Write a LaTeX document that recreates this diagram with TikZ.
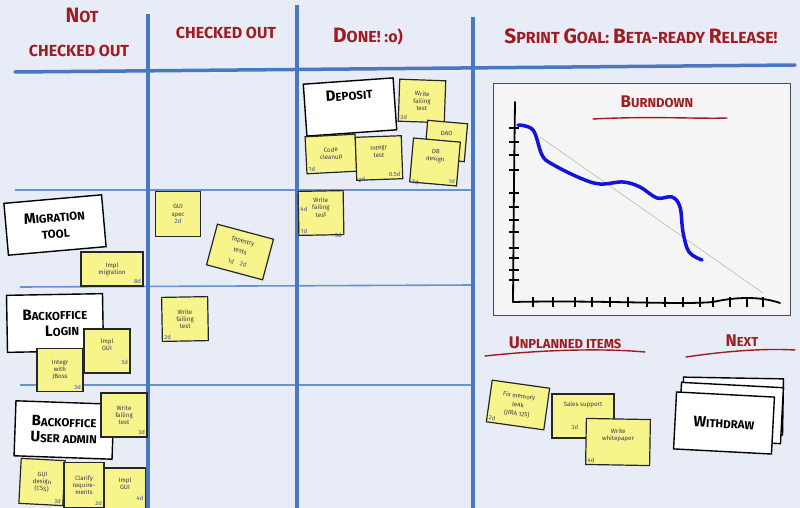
\documentclass[tikz,border=0pt]{standalone}
\usepackage{fontspec}
\setsansfont{Fira Sans}
\definecolor{bg}{HTML}{E8ECF6}
\definecolor{gridblue}{HTML}{4A78C0}
\definecolor{rowblue}{HTML}{6A92CE}
\definecolor{hdred}{HTML}{9E1C22}
\definecolor{stickyY}{HTML}{F8F48C}
\definecolor{notetext}{HTML}{3A3A48}
\definecolor{estblue}{HTML}{3C4C9A}
\definecolor{burnblue}{HTML}{1414D8}
\definecolor{panel}{HTML}{F5F5F5}
\newcommand\kp[2]{\scalebox{1.3}{#1}\MakeUppercase{#2}}
\tikzset{
  gridV/.style={draw=gridblue, line width=3.5pt},
  gridH/.style={draw=rowblue, line width=1.6pt},
  hdr/.style={text=hdred, font=\sffamily\bfseries\fontsize{16}{18}\selectfont, inner sep=0pt},
  sub/.style={text=hdred, font=\sffamily\bfseries\fontsize{13}{15}\selectfont, inner sep=0pt},
  story/.style={draw=black, line width=1.4pt, fill=white, align=center,
    font=\sffamily\bfseries\fontsize{11.5}{16}\selectfont, inner sep=2pt},
  sticky/.style={draw=black!85, line width=1.2pt, fill=stickyY, align=center,
    text=notetext, font=\sffamily\fontsize{6.2}{7.2}\selectfont,
    minimum width=46pt, minimum height=44pt, inner sep=1pt},
  est/.style={text=estblue, font=\sffamily\fontsize{6}{6.5}\selectfont, inner sep=2.5pt},
  redline/.style={draw=hdred, line width=1.4pt, line cap=round}
}
\begin{document}
\begin{tikzpicture}[x=1pt,y=-1pt]
\useasboundingbox (0,0) rectangle (800,508);
\fill[bg] (0,0) rectangle (800,508);

% row lines
\draw[gridH] (15,190) -- (473,190);
\draw[gridH] (20,287) -- (473,285);
\draw[gridH] (20,385) -- (473,385);
% column lines
\draw[gridV] (148,14) -- (148,508);
\draw[gridV] (297,5) -- (297,508);
\draw[gridV] (473,17) -- (473,508);
\draw[gridV, line cap=round] (15,72) -- (795,65);

% headers
\node[hdr] (h1a) at (82,15) {\kp{N}{ot}};
\node[hdr] (h1b) at (79,51) {CHECKED OUT};
\node[hdr] (h2) at (226,33) {CHECKED OUT};
\node[hdr] (h3) at (368,37) {\kp{D}{one}! :o)};
\node[hdr] (h4) at (641,36) {\kp{S}{print} \kp{G}{oal}: \kp{B}{eta-ready} \kp{R}{elease}!};

% burndown panel
\draw[fill=panel, draw=gray!60!black, line width=0.8pt] (493,83) rectangle (790,315);
\node[sub] (bt) at (657,102) {\kp{B}{urndown}};
\draw[redline] (593,119) .. controls (650,116) and (700,119) .. (727,118);
\draw[black, line width=1.8pt, line cap=round] (515,102) .. controls (514,180) .. (513,302);
\draw[black, line width=1.8pt, line cap=round] (513,302) .. controls (600,300) and (680,305) .. (713,302)
   .. controls (735,297) and (760,296) .. (780,303);
\foreach \yy in {128,142,155,170,193,207,220,232,248,258,270,280}
  \draw[black, line width=1.2pt] (509,\yy) -- (519,\yy);
\foreach \xx in {533,553,575,592,610,628,647,665,683,700,713,730,747,763}
  \draw[black, line width=1.2pt] (\xx,297) -- (\xx,307);
\draw[gray!55, line width=0.6pt] (540,137) -- (763,293);
\draw[burnblue, line width=3.5pt, line cap=round] plot[smooth, tension=0.6] coordinates
  {(518,125) (533,130) (542,155) (552,164) (580,178) (600,184) (623,182) (640,187) (657,198) (672,197) (680,207) (683,232) (689,252) (702,260)};

% unplanned / next
\node[sub] (unp) at (565,343) {\kp{U}{nplanned items}};
\draw[redline] (485,356) .. controls (540,350) and (600,348) .. (645,352);
\node[sub] (nxt) at (742,341) {\kp{N}{ext}};
\draw[redline] (686,357) .. controls (720,352) and (760,348) .. (795,350);

% story cards
\node[story, rotate=4, minimum width=90pt, minimum height=52pt] (dep) at (350,107) {\kp{D}{eposit}\\[8pt]};
\node[story, rotate=5, minimum width=98pt, minimum height=52pt] (mig) at (55,225) {\kp{M}{igration}\\TOOL};
\node[story, rotate=1, minimum width=96pt, minimum height=57pt] (bol) at (55,323) {\kp{B}{ackoffice}\\\hspace*{14pt}\kp{L}{ogin}};
\node[story, rotate=-2, minimum width=98pt, minimum height=55pt] (bua) at (64,430) {\kp{B}{ackoffice}\\\kp{U}{ser admin}};
\node[story, rotate=-1, minimum width=100pt, minimum height=56pt] (wd3) at (733,406) {};
\node[story, rotate=-3, minimum width=102pt, minimum height=56pt] (wd2) at (731,413) {};
\node[story, rotate=-3, minimum width=98pt, minimum height=57pt] (wd1) at (724,423) {\kp{W}{ithdraw}};

% stickies: done column
\node[sticky, rotate=-2, minimum height=42pt] (s1) at (422,101) {Write\\failing\\test};
\node[est, rotate=-2, anchor=south west] (s1e) at (s1.south west) {2d};
\node[sticky, rotate=-5, minimum width=40pt, minimum height=38pt] (s2) at (446,141) {DAO\\[8pt]};
\node[sticky, rotate=3, minimum width=50pt, minimum height=37pt] (s3) at (331,154) {Code\\cleanup};
\node[est, rotate=3, anchor=south west] (s3e) at (s3.south west) {1d};
\node[sticky, rotate=2, minimum height=43pt] (s4) at (379,158) {Integr\\test\\[6pt]};
\node[est, rotate=2, anchor=south west] (s4e) at ([yshift=-4pt]s4.south west) {2d};
\node[est, rotate=2, anchor=south east] (s4f) at (s4.south east) {0.5d};
\node[sticky, rotate=-5, minimum width=47pt] (s5) at (435,162) {DB\\design\\[6pt]};
\node[est, rotate=-5, anchor=south west] (s5e) at ([yshift=-4pt]s5.south west) {2d};
\node[est, rotate=-5, anchor=south east] (s5f) at (s5.south east) {1d};
\node[sticky, rotate=1, minimum width=45pt] (s6) at (321,213) {Write\\failing\\test\\[4pt]};
\node[est, rotate=1, anchor=west] (s6w) at ([yshift=4pt]s6.west) {4d};
\node[est, rotate=1, anchor=south west] (s6e) at (s6.south west) {1d};
\node[est, rotate=1, anchor=south east] (s6f) at ([yshift=-5pt]s6.south east) {3d};

% stickies: checked out column
\node[sticky, minimum width=45pt, minimum height=45pt] (s7) at (178,214) {GUI\\spec\\{\color{estblue}2d}};
\node[sticky, rotate=-15, minimum width=58pt, minimum height=42pt] (s8) at (240,252) {Tapestry\\[3pt]tests\\[5pt]{\color{estblue}1d\quad 2d}};
\node[sticky, rotate=1] (s9) at (185,319) {Write\\failing\\test};
\node[est, rotate=1, anchor=south west] (s9e) at (s9.south west) {2d};

% stickies: not checked out column
\node[sticky, minimum width=62pt, minimum height=34pt] (s10) at (112,269) {Impl\\migration};
\node[est, anchor=south east] (s10e) at (s10.south east) {8d};
\node[sticky] (s11) at (107,351) {Impl\\GUI\\[6pt]};
\node[est, anchor=south east] (s11e) at ([yshift=6pt]s11.south east) {3d};
\node[sticky, minimum height=43pt] (s12) at (60,370) {Integr\\with\\JBoss};
\node[est, anchor=south east] (s12e) at (s12.south east) {3d};
\node[sticky] (s13) at (124,415) {Write\\failing\\test};
\node[est, anchor=south east] (s13e) at (s13.south east) {3d};
\node[sticky, rotate=-3, minimum width=44pt, minimum height=45pt] (s14) at (42,482) {GUI\\design\\(CSS)};
\node[est, rotate=-3, anchor=south east] (s14e) at (s14.south east) {3d};
\node[sticky, minimum width=40pt, minimum height=45pt] (s15) at (84,485) {Clarify\\require-\\ments};
\node[est, anchor=south east] (s15e) at (s15.south east) {2d};
\node[sticky, minimum width=41pt, minimum height=44pt] (s16) at (125,490) {Impl\\GUI\\[6pt]};
\node[est, anchor=south east] (s16e) at ([yshift=9pt]s16.south east) {4d};

% stickies: unplanned
\node[sticky, rotate=-8, minimum width=58pt, minimum height=42pt, font=\sffamily\fontsize{6.2}{9}\selectfont] (s17) at (518,405) {Fix memory\\leak\\(JIRA 125)};
\node[est, rotate=-8, anchor=south west] (s17e) at (s17.south west) {2d};
\node[sticky, minimum width=62pt, minimum height=44pt] (s18) at (583,416) {Sales support\\[16pt]};
\node[est, anchor=south] (s18e) at ([xshift=-8pt,yshift=6pt]s18.south) {3d};
\node[sticky, rotate=-1, minimum width=64pt, minimum height=46pt] (s19) at (618,442) {Write\\whitepaper\\[8pt]};
\node[est, rotate=-1, anchor=south west] (s19e) at (s19.south west) {4d};
\end{tikzpicture}
\end{document}
